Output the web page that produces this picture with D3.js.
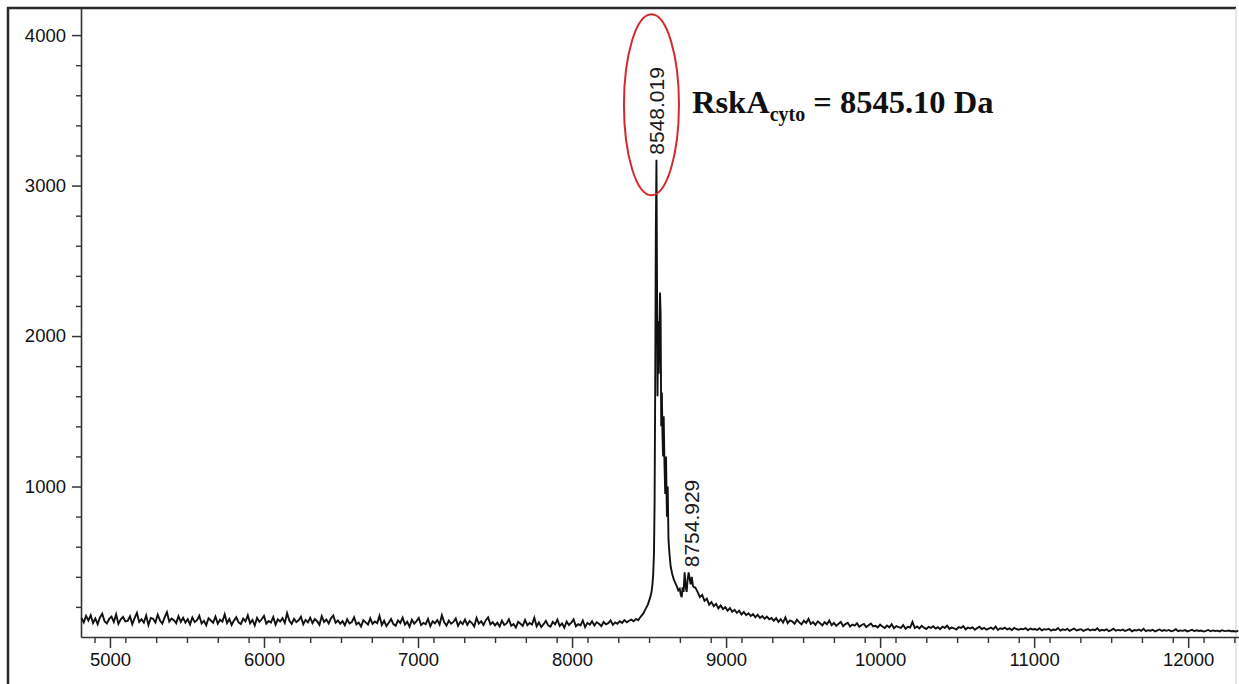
<!DOCTYPE html>
<html>
<head>
<meta charset="utf-8">
<script src="https://cdn.jsdelivr.net/npm/d3@7"></script>
<style>
  body { margin: 0; background: #fff; }
  svg { display: block; }
</style>
</head>
<body>
<div id="chart"></div>
<script>
// spectrum
const mzStep = 15;

const leftStart = 4815;
const leftNoise = [
  127, 97, 140, 110, 145, 93, 123, 85, 130, 155, 105, 90, 120, 135, 100, 150, 87, 117, 133, 103,
  107, 137, 85, 125, 160, 100, 118, 95, 143, 80, 127, 121, 97, 148, 110, 89, 130, 165, 103, 123,
  112, 92, 138, 101, 128, 96,
  118, 84, 130, 99, 112, 141, 90, 107, 78, 125, 110, 95, 136, 88, 115, 102, 150, 93, 120, 80,
  109, 131, 97, 86, 122, 104, 145, 91, 113, 77, 127, 100, 118, 140, 89, 106, 96, 133, 82, 117,
  103, 125, 94, 158, 108, 87, 121, 99, 111, 135, 85, 114, 97, 128, 92, 119, 105, 81, 138, 100,
  116, 90, 124, 143, 95, 110, 88,
  105, 78, 118, 90, 99, 131, 84, 96, 70, 112, 97, 83, 124, 88, 103, 92, 140, 80, 108, 73,
  95, 119, 86, 75, 110, 93, 128, 82, 101, 68, 114, 89, 106, 126, 79, 94, 85, 120, 72, 104,
  91, 113, 83, 145, 97, 76, 109, 88, 100, 123, 74, 102, 86, 116, 81, 107, 93, 70, 127, 89,
  104, 79, 112, 130, 84, 98, 77,
  95, 70, 108, 80, 90, 118, 75, 86, 63, 101, 88, 74, 113, 79, 93, 83, 128, 71, 97, 66,
  85, 107, 77, 68, 100, 84, 115, 73, 91, 62, 103, 80, 96, 117, 71, 85, 77, 110, 65, 94,
  82, 104, 76, 98, 88, 72, 100, 84, 92, 110, 80, 97, 88, 105, 94, 112, 98, 108, 115, 104,
  120, 112
];

const peakMz = [8438, 8450, 8462, 8472, 8482, 8492, 8500, 8508, 8516, 8522, 8527, 8532, 8536, 8540,
  8544, 8548, 8551, 8555, 8559, 8563, 8567, 8571, 8575, 8579, 8583, 8587, 8591, 8595, 8600, 8605,
  8610, 8616, 8621, 8626, 8632, 8640, 8650, 8660, 8670, 8679, 8690, 8699, 8706, 8712, 8718, 8724,
  8731, 8737, 8744, 8750, 8757, 8763, 8770, 8777, 8785, 8792];
const peakInt = [125, 140, 155, 175, 195, 215, 240, 265, 300, 350, 420, 560, 900, 1700,
  2700, 3172, 2500, 1600, 2100, 1750, 2000, 2290, 2150, 1400, 1625, 1350, 1200, 1467, 1150, 950,
  1200, 800, 1000, 650, 560, 470, 420, 385, 360, 340, 310, 320, 280, 265, 330, 300,
  430, 340, 300, 380, 430, 390, 350, 400, 340, 330];

const rightStart = 8800;
const rightNoise = [
  330, 300, 265, 280, 240, 255, 215, 232, 205, 220, 190, 210, 186, 198, 175, 192, 168, 181, 160, 175,
  150, 166, 145, 158, 140, 152, 131, 148, 127, 139, 122, 135, 118, 126,
  108, 125, 100, 118, 96, 130, 92, 110, 103, 88, 115, 97, 84, 108, 93, 120, 86, 99, 80, 104,
  91, 77, 98, 85, 110, 79, 93, 74, 88, 100, 72, 86, 95, 70, 83, 76, 92, 68, 80, 87,
  66, 78, 90, 71, 75, 64, 82,
  70, 60, 76, 64, 85, 58, 72, 66, 61, 79, 55, 68, 63, 100, 59, 70, 57, 74, 62, 53,
  67, 60, 71, 56, 65, 52, 69, 61, 75, 54, 63, 58, 50, 66, 60, 72, 51, 62, 57, 64,
  48, 59, 68, 53, 61, 49, 56, 63, 52, 70, 47, 58, 54, 62, 50, 57, 46, 60, 53, 48,
  55, 51, 59, 45, 56, 50, 53,
  47, 58, 44, 52, 49, 55, 42, 50, 47, 60, 43, 51, 46, 54, 41, 49, 56, 44, 48, 52,
  40, 47, 53, 43, 50, 45, 58, 41, 48, 44, 51, 39, 46, 55, 42, 47, 43, 50, 40, 45,
  52, 38, 46, 43, 49, 41, 54, 39, 45, 42, 48, 37, 44, 50, 40, 46, 41, 47, 38, 43,
  52, 39, 44, 41, 46, 37, 42, 48, 39, 45, 40, 43, 36, 41, 47, 38, 44, 40, 42, 37,
  45, 39, 41, 43, 38, 40, 36, 42
];

const xTicks = [5000, 6000, 7000, 8000, 9000, 10000, 11000, 12000];
const yTicks = [1000, 2000, 3000, 4000];
const peakLabels = [
  { mz: 8548, val: 3172, text: "8548.019", dx: 0 },
  { mz: 8755, val: 430, text: "8754.929", dx: 3 }
];
const massNote = { name: "RskA", sub: "cyto", rest: " = 8545.10 Da" };

const width = 1239, height = 684;
const margin = { top: 8, left: 81, bottom: 47, right: 0 };

const svg = d3.select("#chart").append("svg")
  .attr("width", width).attr("height", height);

const x = d3.scaleLinear()
  .domain([4812, 12330])
  .range([margin.left, width - margin.right]);

const y = d3.scaleLinear()
  .domain([0, 4180])
  .range([height - margin.bottom, margin.top]);

// build the trace
var spectrum = [];
leftNoise.forEach((v, i) => {
  const mz = leftStart + i * mzStep;
  if (mz < 8436) spectrum.push({ mz: mz, v: v });
});
peakMz.forEach((mz, i) => spectrum.push({ mz: mz, v: peakInt[i] }));
rightNoise.forEach((v, i) => {
  const mz = rightStart + i * mzStep;
  if (mz > 8795) spectrum.push({ mz: mz, v: v });
});

// frame round the picture
svg.append("line").attr("x1", 8).attr("x2", 8).attr("y1", 7).attr("y2", height)
  .attr("stroke", "#2a2a2a").attr("stroke-width", 2.5);
svg.append("line").attr("x1", 7).attr("x2", 1236).attr("y1", 8).attr("y2", 8)
  .attr("stroke", "#2a2a2a").attr("stroke-width", 2.5);
svg.append("line").attr("x1", 1236).attr("x2", 1236).attr("y1", 8).attr("y2", height)
  .attr("stroke", "#d0d0d0").attr("stroke-width", 1);

// minor ticks
const xMinor = d3.range(4900, 12330, 200).filter(v => v % 1000 !== 0);
const yMinor = d3.range(200, 4180, 200).filter(v => v % 1000 !== 0);

svg.append("g")
  .attr("transform", `translate(0,${y(0)})`)
  .call(d3.axisBottom(x).tickValues(xMinor).tickSize(6).tickFormat(""))
  .call(g => g.select(".domain").remove())
  .call(g => g.selectAll("line").attr("stroke", "#333").attr("stroke-width", 1.4));

svg.append("g")
  .attr("transform", `translate(${margin.left},0)`)
  .call(d3.axisLeft(y).tickValues(yMinor).tickSize(5).tickFormat(""))
  .call(g => g.select(".domain").remove())
  .call(g => g.selectAll("line").attr("stroke", "#333").attr("stroke-width", 1.4));

// major axes
svg.append("g")
  .attr("transform", `translate(0,${y(0)})`)
  .call(d3.axisBottom(x).tickValues(xTicks).tickSize(11).tickPadding(5).tickSizeOuter(0).tickFormat(d3.format("d")))
  .call(g => g.select(".domain").attr("stroke", "#333").attr("stroke-width", 1.6))
  .call(g => g.selectAll("line").attr("stroke", "#333").attr("stroke-width", 1.5))
  .call(g => g.selectAll("text").attr("fill", "#111")
    .style("font-family", "'Liberation Sans', Arial, sans-serif").style("font-size", "18.5px"));

svg.append("g")
  .attr("transform", `translate(${margin.left},0)`)
  .call(d3.axisLeft(y).tickValues(yTicks).tickSize(9).tickPadding(6).tickSizeOuter(0).tickFormat(d3.format("d")))
  .call(g => g.select(".domain").attr("stroke", "#333").attr("stroke-width", 1.6))
  .call(g => g.selectAll("line").attr("stroke", "#333").attr("stroke-width", 1.5))
  .call(g => g.selectAll("text").attr("fill", "#111")
    .style("font-family", "'Liberation Sans', Arial, sans-serif").style("font-size", "18.5px"));

// the spectrum
var line = d3.line()
  .x(d => x(d.mz))
  .y(d => y(d.v));

svg.append("path")
  .datum(spectrum)
  .attr("fill", "none")
  .attr("stroke", "#111")
  .attr("stroke-width", 1.9)
  .attr("stroke-linejoin", "miter")
  .attr("d", line);

// peak labels, rotated
svg.selectAll(".peak-label")
  .data(peakLabels)
  .enter().append("text")
  .attr("class", "peak-label")
  .attr("transform", d => `translate(${x(d.mz) + d.dx},${y(d.val) - 5}) rotate(-90)`)
  .attr("dy", "0.36em")
  .attr("fill", "#1a1a1a")
  .style("font-family", "'Liberation Sans', Arial, sans-serif")
  .style("font-size", "21px")
  .text(d => d.text);

// red ellipse round the main peak label
const main = peakLabels[0];
svg.append("ellipse")
  .attr("cx", x(main.mz) - 5)
  .attr("cy", y(main.val) - 55)
  .attr("rx", 27.5)
  .attr("ry", 90.5)
  .attr("fill", "none")
  .attr("stroke", "#d42a2a")
  .attr("stroke-width", 2);

// mass note
const note = svg.append("text")
  .attr("x", 692)
  .attr("y", 113)
  .attr("fill", "#111")
  .style("font-family", "'Liberation Serif', 'Times New Roman', serif")
  .style("font-weight", "bold")
  .style("font-size", "32.5px");
note.append("tspan").text(massNote.name);
note.append("tspan").attr("dy", 8).style("font-size", "20px").text(massNote.sub);
note.append("tspan").attr("dy", -8).text(massNote.rest);
</script>
</body>
</html>
